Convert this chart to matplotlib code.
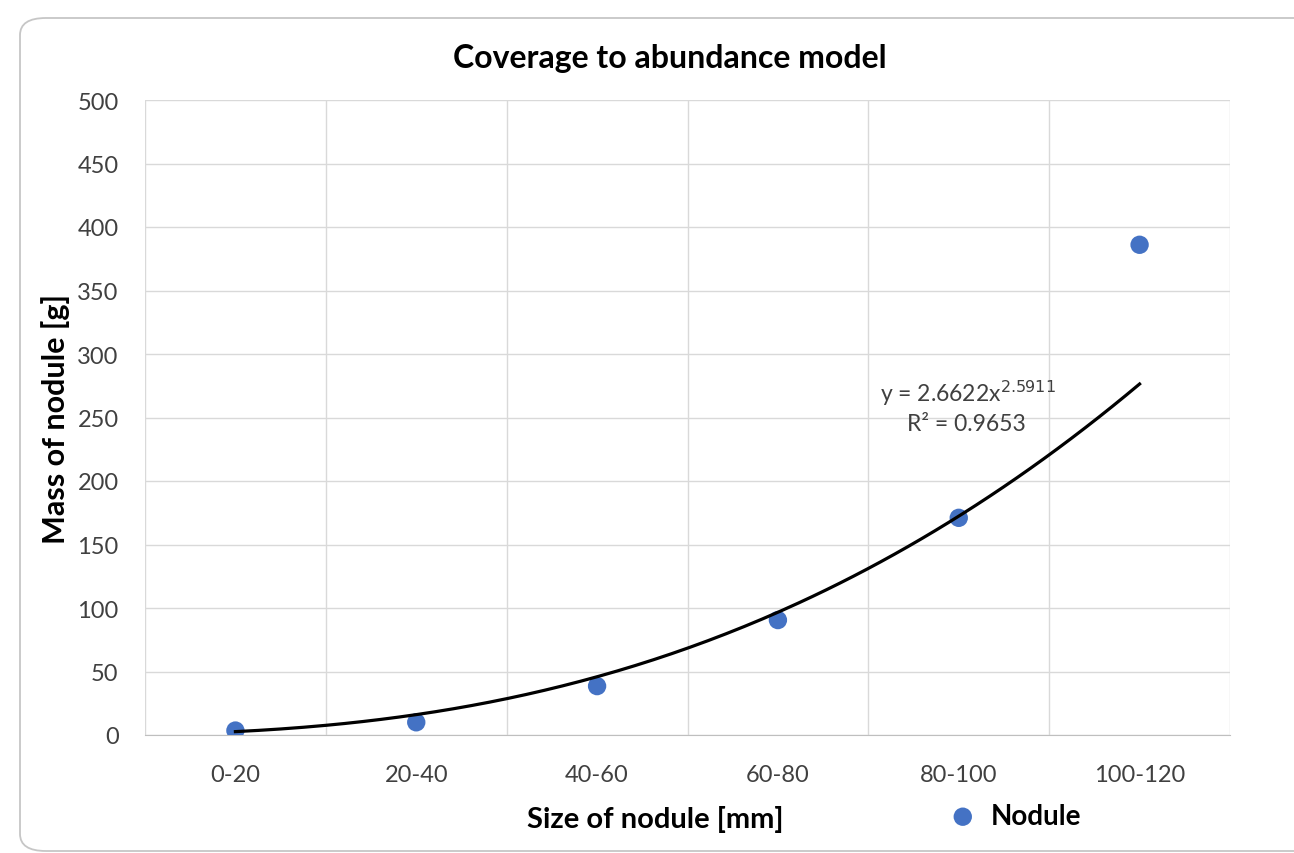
import numpy as np
import matplotlib.pyplot as plt
from matplotlib.patches import FancyBboxPatch

plt.rcParams['font.family'] = ['Lato', 'DejaVu Sans']

### Data
categories = ['0-20', '20-40', '40-60', '60-80', '80-100', '100-120']
mass = [3.5, 10, 38.5, 90.5, 171, 386]

### Power trendline shown on the chart
coef_a = 2.6622
coef_b = 2.5911
r_squared = 0.9653

### Figure and frame
fig = plt.figure(figsize=(12.94, 8.54), dpi=100)
frame = FancyBboxPatch((20/1294, 2/854), 1.2, 833/854,
                       boxstyle="round,pad=0,rounding_size=0.02",
                       transform=fig.transFigure, facecolor='none',
                       edgecolor='#c6c6c6', linewidth=1.3, zorder=-1)
fig.patches.append(frame)

ax = fig.add_axes([145/1294, 118/854, 1085/1294, 635/854])
ax.set_facecolor('none')

### Points and trendline
x = np.arange(1, len(categories) + 1)
ax.scatter(x, mass, s=175, color='#4472C4', zorder=3, label='Nodule',
           edgecolors='none')
xt = np.linspace(1, len(categories), 200)
ax.plot(xt, coef_a*xt**coef_b, color='black', linewidth=2.3, zorder=4)

### Axes decoration
ax.set_xlim(0.5, len(categories) + 0.5)
ax.set_ylim(0, 500)
ax.set_yticks(np.arange(0, 501, 50))
ax.set_xticks(x)
ax.set_xticklabels(categories)
ax.set_xticks(np.arange(0.5, len(categories) + 1, 1), minor=True)
ax.grid(True, which='minor', axis='x', color='#d9d9d9', linewidth=1)
ax.grid(True, which='major', axis='y', color='#d9d9d9', linewidth=1)
ax.set_axisbelow(True)
ax.tick_params(which='both', length=0, labelsize=17, colors='#404040')
ax.tick_params(axis='y', pad=19)
ax.tick_params(axis='x', pad=21)
for s in ['top', 'right', 'left']:
    ax.spines[s].set_visible(False)
ax.spines['bottom'].set_color('#bfbfbf')

ax.set_title('Coverage to abundance model', fontsize=23, fontweight='bold', pad=24)
ax.title.set_x(0.484)
ax.set_ylabel('Mass of nodule [g]', fontsize=22, fontweight='bold', labelpad=5)
ax.set_xlabel('Size of nodule [mm]', fontsize=21, fontweight='bold', labelpad=14)
ax.xaxis.label.set_x(0.47)

### Trendline equation
ax.text(4.565, 270, f'y = {coef_a}x$^{{{coef_b}}}$', fontsize=16.5, color='#404040',
        ha='left', va='center')
ax.text(5.04, 245, f'R² = {r_squared}', fontsize=16.5, color='#404040',
        ha='center', va='center')

### Legend
fig.legend(loc='center left', bbox_to_anchor=(910/1294, 1 - 817/854),
           frameon=False, prop={'size': 20, 'weight': 'bold'},
           handletextpad=0.0, markerscale=1.0)

fig.savefig('out.png', dpi=100)
